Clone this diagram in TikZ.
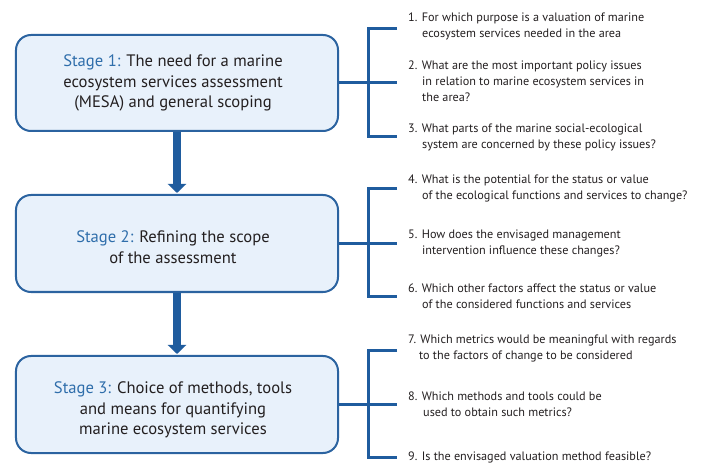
\documentclass[tikz,border=0pt]{standalone}
\usepackage{fontspec}
\setmainfont{PT Sans}
\usetikzlibrary{arrows.meta}
\definecolor{boxline}{HTML}{2B63A0}
\definecolor{boxfill}{HTML}{E8F1FB}
\definecolor{stageblue}{HTML}{2F6EAB}
\definecolor{linkblue}{HTML}{1F5C9E}
\definecolor{arrowblue}{HTML}{1F5C9E}
\definecolor{txt}{HTML}{231F20}
\tikzset{
  stagebox/.style={draw=boxline, fill=boxfill, line width=2bp, rounded corners=15bp,
    minimum width=322bp, minimum height=96bp, inner sep=0pt},
  stagetext/.style={align=center, text=txt, inner sep=0pt,
    font=\fontsize{16.6bp}{20.5bp}\selectfont},
  question/.style={align=left, text=txt, inner sep=0pt, anchor=north west,
    font=\fontsize{12.2bp}{16bp}\selectfont},
  bracket/.style={draw=linkblue, line width=3bp},
  flow/.style={draw=arrowblue, line width=8bp, -{Triangle[width=18bp,length=9bp]}, shorten >=1bp}
}
\newcommand{\stg}[1]{\textcolor{stageblue}{#1}}
\newcommand{\ind}{\hspace*{14bp}}
\begin{document}
\begin{tikzpicture}[x=1bp,y=-1bp]
\useasboundingbox (0,0) rectangle (720,463);
% stage boxes
\node[stagebox] (s1) at (177,83) {};
\node[stagebox, minimum height=97bp] (s2) at (177,243.5) {};
\node[stagebox, minimum height=97bp] (s3) at (177,404.5) {};
\node[stagetext] (t1) at (173,83) {\stg{Stage 1:} The need for a marine\\ecosystem services assessment\\(MESA) and general scoping};
\node[stagetext] (t2) at (173,247) {\stg{Stage 2:} Refining the scope\\of the assessment};
\node[stagetext] (t3) at (173,410) {\stg{Stage 3:} Choice of methods, tools\\and means for quantifying\\marine ecosystem services};
% arrows
\draw[flow] (s1.south) -- (s2.north);
\draw[flow] (s2.south) -- (s3.north);
% bracket coordinates
\coordinate (b1t) at (397,29);  \coordinate (b1m) at (397,83);  \coordinate (b1b) at (397,137);
\coordinate (b2t) at (397,189); \coordinate (b2m) at (397,243.5); \coordinate (b2b) at (397,297);
\coordinate (b3t) at (397,350); \coordinate (b3m) at (397,404.5); \coordinate (b3b) at (397,457);
\draw[bracket] (s1.east) -- (b1m);
\draw[bracket] (b1t) -- ++(-29,0) |- (b1b);
\draw[bracket] (s2.east) -- (b2m);
\draw[bracket] (b2t) -- ++(-29,0) |- (b2b);
\draw[bracket] (s3.east) -- (b3m);
\draw[bracket] (b3t) -- ++(-29,0) |- (b3b);
% questions
\node[question] (q1) at (408,13) {1. For which purpose is a valuation of marine\\\ind ecosystem services needed in the area};
\node[question] (q2) at (408,61) {2. What are the most important policy issues\\\ind in relation to marine ecosystem services in\\\ind the area?};
\node[question] (q3) at (408,124) {3. What parts of the marine social-ecological\\\ind system are concerned by these policy issues?};
\node[question] (q4) at (408,175) {4. What is the potential for the status or value\\\ind of the ecological functions and services to change?};
\node[question] (q5) at (408,230) {5. How does the envisaged management\\\ind intervention influence these changes?};
\node[question] (q6) at (408,284) {6. Which other factors affect the status or value\\\ind of the considered functions and services};
\node[question] (q7) at (408,335) {7. Which metrics would be meaningful with regards\\\hspace*{11bp}to the factors of change to be considered};
\node[question] (q8) at (408,392) {8. Which methods and tools could be\\\hspace*{15bp}used to obtain such metrics?};
\node[question] (q9) at (408,452) {9. Is the envisaged valuation method feasible?};
\end{tikzpicture}
\end{document}
